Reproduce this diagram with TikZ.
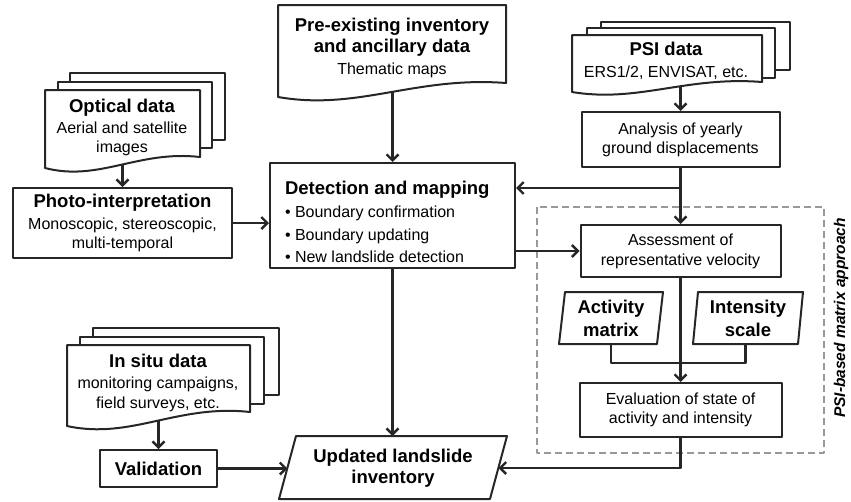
\documentclass[tikz,border=0pt]{standalone}
\usepackage{fontspec}
\setmainfont{Liberation Sans}
\usetikzlibrary{arrows.meta}
\newcommand\mytitlefont{\fontsize{18.5}{21}\selectfont\bfseries}
\newcommand\mybodyfont{\fontsize{16}{19}\selectfont}
\begin{document}
\begin{tikzpicture}[x=1pt,y=-1pt,line join=round,line width=2pt,
  sheet/.style={draw=black!85,line width=2pt,fill=white},
  box/.style={draw=black!85,line width=2pt,fill=white,inner sep=0pt,outer sep=1pt,align=center,font=\mybodyfont},
  txt/.style={align=center,font=\mybodyfont,inner sep=0pt},
  ttxt/.style={align=center,font=\mytitlefont,inner sep=0pt},
  conn/.style={draw=black!85,line width=2.4pt,-{Straight Barb[length=6pt,width=12pt]}},
  linkline/.style={draw=black!85,line width=2.4pt}]
\useasboundingbox (0,0) rectangle (851,501);

% PSI-based matrix approach frame
\draw[draw=black!40,line width=2pt,dash pattern=on 7pt off 4pt] (537,207) rectangle (824,453);

% Optical data document
\draw[sheet] (70,73) rectangle (225,140);
\draw[sheet] (58,82) rectangle (212,148);
\draw[sheet] (45,90) -- (200,90) -- (200,157) .. controls (138,150) and (99,182) .. (45,168) -- cycle;
\node[txt] (optT) at (122,127) {{\mytitlefont Optical data}\\[2pt]Aerial and satellite\\images};
\coordinate (optB) at (122.5,164);

% Pre-existing document
\draw[sheet] (278,5) -- (506,5) -- (506,83) .. controls (415,76) and (358,111) .. (278,97) -- cycle;
\node[txt] (preT) at (392,48) {{\mytitlefont Pre-existing inventory}\\[2pt]{\mytitlefont and ancillary data}\\[3pt]Thematic maps};
\coordinate (preB) at (392.5,91.5);

% PSI data document
\draw[sheet] (601,22) rectangle (790,70);
\draw[sheet] (587,28) rectangle (775,78);
\draw[sheet] (572,35) -- (762,35) -- (762,82) .. controls (686,76) and (638,103) .. (572,92) -- cycle;
\node[txt] (psiT) at (666,61) {{\mytitlefont PSI data}\\[3pt]ERS1/2, ENVISAT, etc.};
\coordinate (psiB) at (680.5,85.5);

% In situ document
\draw[sheet] (93,328) rectangle (279,395);
\draw[sheet] (80,337) rectangle (264,404);
\draw[sheet] (67,345) -- (250,345) -- (250,412) .. controls (177,404) and (131,440) .. (67,426) -- cycle;
\node[txt] (insT) at (158,383) {{\mytitlefont In situ data}\\[2pt]monitoring campaigns,\\[1pt]field surveys, etc.};
\coordinate (insB) at (158.5,420);

% Boxes
\node[box,minimum width=219pt,minimum height=70pt] (photo) at (122.5,223)
  {{\mytitlefont Photo-interpretation}\\[3pt]Monoscopic, stereoscopic,\\multi-temporal};
\node[box,minimum width=245pt,minimum height=105pt] (det) at (392.5,215.5) {};
\node[align=left,anchor=west,font=\mybodyfont,inner sep=0pt] (detT) at (284,221.5)
  {{\mytitlefont Detection and mapping}\\[4pt]\textbullet\ Boundary confirmation\\[4pt]\textbullet\ Boundary updating\\[3pt]\textbullet\ New landslide detection};
\node[box,minimum width=198pt,minimum height=55pt] (ana) at (680.5,139.5) {Analysis of yearly\\ground displacements};
\node[box,minimum width=200pt,minimum height=52pt] (ass) at (680.5,251) {Assessment of\\[1pt]representative velocity};
\node[box,minimum width=202pt,minimum height=54pt] (eva) at (680.5,410) {Evaluation of state of\\activity and intensity};
\node[box,minimum width=117pt,minimum height=37pt,font=\mytitlefont] (val) at (158.5,468.5) {Validation};

% Parallelograms
\draw[sheet] (559,344) -- (657,344) -- (663,292) -- (565,292) -- cycle;
\node[ttxt] (actT) at (611,318) {Activity\\[2pt]matrix};
\coordinate (actB) at (611,344);
\draw[sheet] (693,344) -- (798,344) -- (803,292) -- (698,292) -- cycle;
\node[ttxt] (intT) at (748,318) {Intensity\\[2pt]scale};
\coordinate (intB) at (745.5,344);
\coordinate (aiL) at (611,363);
\draw[sheet] (279,499) -- (490,499) -- (507,436) -- (296,436) -- cycle;
\node[ttxt] (updT) at (393,468) {Updated landslide\\inventory};
\coordinate (updTop) at (392.5,436);
\coordinate (updL) at (287.5,468.5);
\coordinate (updR) at (498.5,468);
\coordinate (j1) at (680.5,188);

% Side label
\node[rotate=90,font=\fontsize{15.5}{18}\selectfont\bfseries\itshape,inner sep=0pt] (lab) at (841,318) {PSI-based matrix approach};

% Connectors
\draw[conn] (optB) -- (optB |- photo.north);
\draw[conn] (preB) -- (preB |- det.north);
\draw[conn] (psiB) -- (psiB |- ana.north);
\draw[conn] (insB) -- (insB |- val.north);
\draw[conn] (photo.east) -- (photo.east -| det.west);
\draw[conn] (ana.south) -- (ass.north);
\draw[conn] (j1) -- (j1 -| det.east);
\draw[conn] (ass.west -| det.east) -- (ass.west);
\draw[conn] (det.south) -- (updTop);
\draw[conn] (val.east) -- (updL);
\draw[linkline] (actB) -- (aiL) -| (intB);
\draw[conn] (ass.south) -- (eva.north);
\draw[conn] (eva.south) |- (updR);
\end{tikzpicture}
\end{document}
